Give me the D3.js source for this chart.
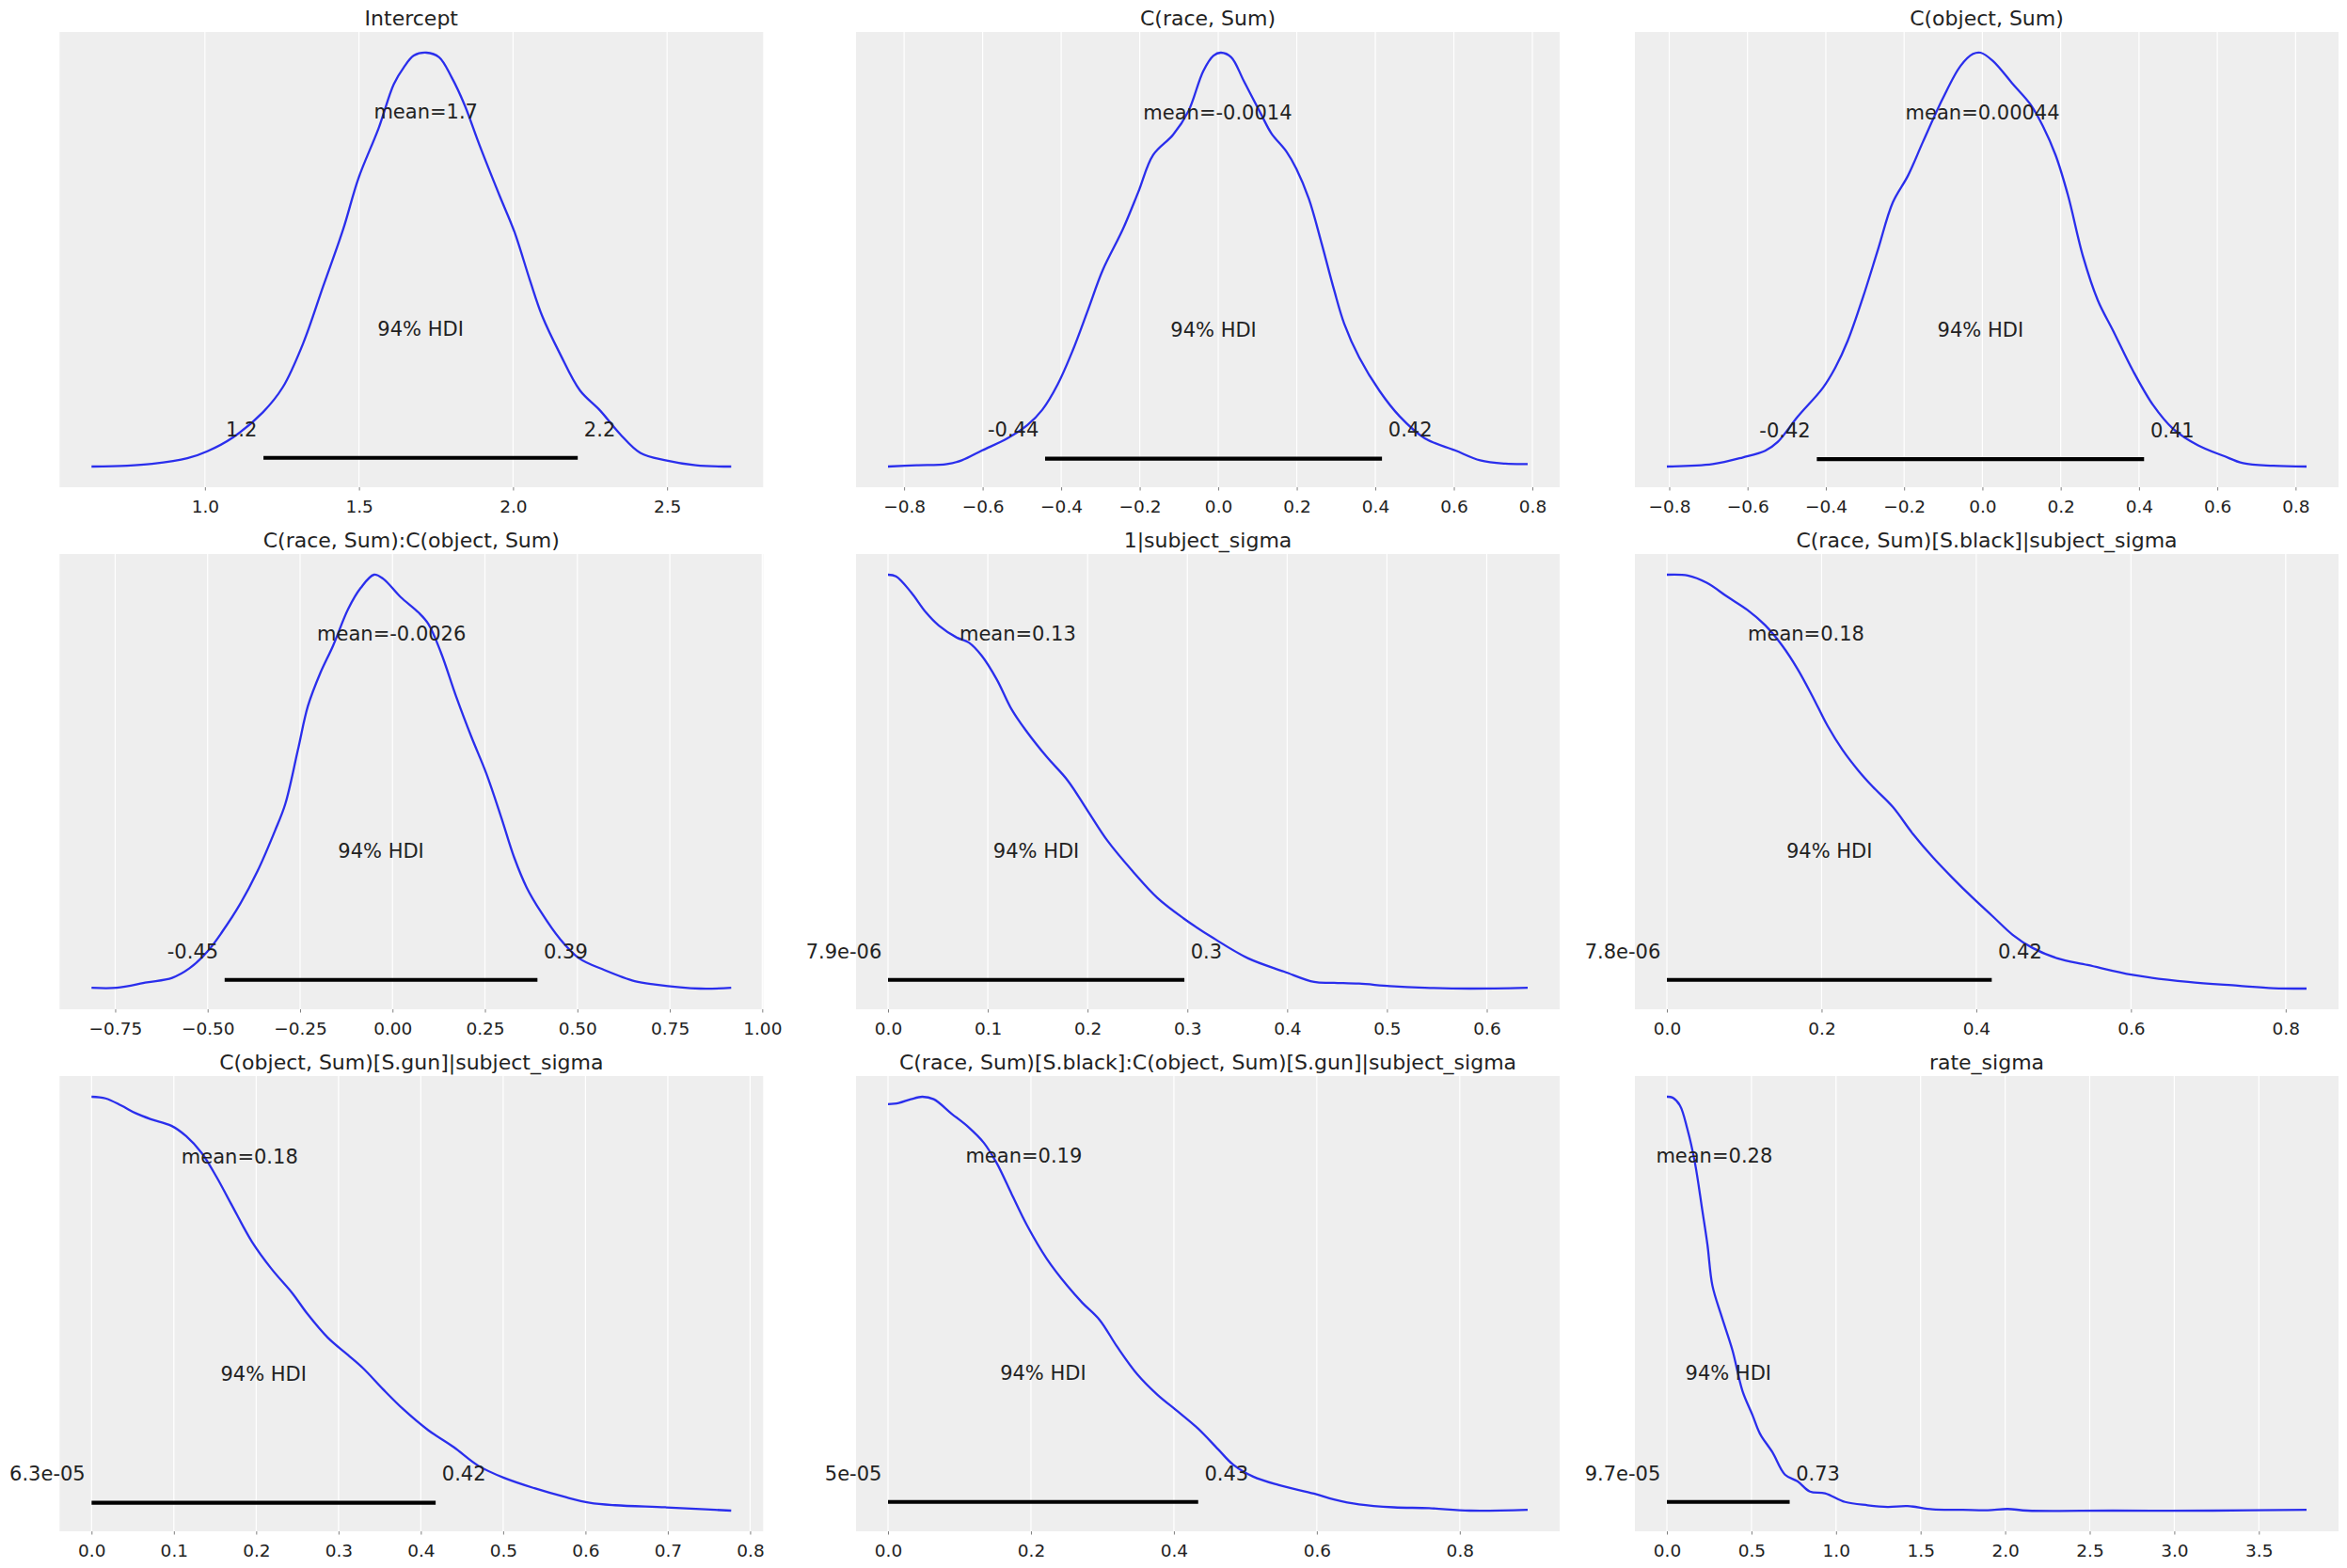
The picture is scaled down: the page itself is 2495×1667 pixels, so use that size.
<!DOCTYPE html>
<html><head><meta charset="utf-8">
<script src="https://cdn.jsdelivr.net/npm/d3@7"></script>
<style>
body{margin:0;background:#fff}
svg{display:block}
text{font-family:"DejaVu Sans",sans-serif}
</style>
</head><body>
<svg id="chart" width="2495" height="1667"></svg>
<script>
// ---------------- data ----------------
const titles = ["Intercept", "C(race, Sum)", "C(object, Sum)",
  "C(race, Sum):C(object, Sum)", "1|subject_sigma", "C(race, Sum)[S.black]|subject_sigma",
  "C(object, Sum)[S.gun]|subject_sigma", "C(race, Sum)[S.black]:C(object, Sum)[S.gun]|subject_sigma", "rate_sigma"];
const meanValues = [1.717, -0.0014, 0.00044, -0.0026, 0.13, 0.18, 0.18, 0.19, 0.28];
const hdiLow  = [1.19, -0.441, -0.423, -0.454, 7.9e-06, 7.8e-06, 6.3e-05, 5e-05, 9.7e-05];
const hdiHigh = [2.21, 0.417, 0.413, 0.392, 0.297, 0.42, 0.418, 0.434, 0.726];
const hdiProb = 0.94;
const xTicks = [
  [1.0, 1.5, 2.0, 2.5],
  [-0.8, -0.6, -0.4, -0.2, 0.0, 0.2, 0.4, 0.6, 0.8],
  [-0.8, -0.6, -0.4, -0.2, 0.0, 0.2, 0.4, 0.6, 0.8],
  [-0.75, -0.50, -0.25, 0.00, 0.25, 0.50, 0.75, 1.00],
  [0.0, 0.1, 0.2, 0.3, 0.4, 0.5, 0.6],
  [0.0, 0.2, 0.4, 0.6, 0.8],
  [0.0, 0.1, 0.2, 0.3, 0.4, 0.5, 0.6, 0.7, 0.8],
  [0.0, 0.2, 0.4, 0.6, 0.8],
  [0.0, 0.5, 1.0, 1.5, 2.0, 2.5, 3.0, 3.5]
];
const tickDecimals = [1, 1, 1, 2, 1, 1, 1, 1, 1];

// kernel density curves (x = parameter value, y = relative density)
const interceptX = [0.632,0.747,0.828,0.943,1.008,1.09,1.188,1.253,1.319,1.384,1.449,1.498,1.564,1.613,1.645,1.678,1.719,1.760,1.801,1.842,1.891,1.956,2.005,2.054,2.095,2.152,2.217,2.283,2.348,2.413,2.495,2.593,2.708];
const interceptY = [0,0.002,0.0065,0.02,0.037,0.07,0.131,0.192,0.298,0.436,0.574,0.696,0.818,0.924,0.964,0.993,1.0,0.989,0.940,0.875,0.777,0.655,0.566,0.452,0.363,0.273,0.184,0.135,0.078,0.033,0.015,0.003,0];

const raceX = [-0.841,-0.768,-0.691,-0.653,-0.601,-0.537,-0.486,-0.448,-0.409,-0.371,-0.332,-0.294,-0.243,-0.204,-0.166,-0.115,-0.076,-0.038,-0.012,0.007,0.033,0.065,0.110,0.135,0.174,0.199,0.231,0.263,0.295,0.321,0.359,0.411,0.462,0.526,0.603,0.667,0.731,0.788];
const raceY = [0.002,0.005,0.008,0.017,0.041,0.070,0.102,0.139,0.2,0.281,0.379,0.476,0.574,0.663,0.753,0.802,0.859,0.956,0.993,1.0,0.989,0.932,0.850,0.806,0.761,0.720,0.647,0.541,0.428,0.346,0.265,0.184,0.123,0.070,0.041,0.017,0.009,0.008];

const objectX = [-0.806,-0.689,-0.612,-0.555,-0.523,-0.472,-0.408,-0.376,-0.344,-0.305,-0.267,-0.229,-0.190,-0.152,-0.101,-0.056,-0.024,-0.005,0.027,0.078,0.123,0.155,0.187,0.219,0.257,0.295,0.334,0.385,0.436,0.487,0.551,0.615,0.666,0.743,0.828];
const objectY = [0.003,0.009,0.025,0.041,0.062,0.123,0.192,0.241,0.306,0.411,0.525,0.639,0.704,0.785,0.890,0.968,0.997,1.0,0.980,0.924,0.875,0.822,0.753,0.655,0.509,0.403,0.330,0.233,0.151,0.094,0.054,0.029,0.011,0.005,0.003];

const raceObjectX = [-0.814,-0.746,-0.664,-0.596,-0.549,-0.501,-0.460,-0.413,-0.365,-0.318,-0.290,-0.256,-0.229,-0.195,-0.161,-0.120,-0.086,-0.050,-0.025,0.022,0.070,0.097,0.131,0.172,0.213,0.254,0.294,0.329,0.363,0.403,0.451,0.505,0.573,0.655,0.709,0.832,0.916];
const raceObjectY = [0.002,0.002,0.015,0.026,0.049,0.089,0.138,0.203,0.284,0.381,0.446,0.576,0.682,0.763,0.828,0.917,0.968,1.0,0.990,0.946,0.909,0.881,0.812,0.706,0.609,0.519,0.414,0.317,0.244,0.183,0.122,0.073,0.045,0.018,0.010,0.0,0.002];

const subjX = [0,0.008,0.023,0.038,0.051,0.069,0.081,0.094,0.109,0.124,0.139,0.159,0.180,0.200,0.220,0.245,0.270,0.296,0.326,0.361,0.397,0.427,0.447,0.472,0.503,0.538,0.583,0.641];
const subjY = [1.0,0.996,0.958,0.909,0.877,0.848,0.836,0.804,0.747,0.674,0.621,0.560,0.503,0.430,0.357,0.284,0.219,0.170,0.122,0.073,0.041,0.016,0.014,0.012,0.006,0.002,0.0,0.002];

const raceSubjX = [0,0.027,0.052,0.078,0.104,0.127,0.149,0.169,0.188,0.208,0.227,0.247,0.266,0.292,0.318,0.344,0.369,0.395,0.421,0.447,0.473,0.505,0.544,0.602,0.674,0.738,0.784,0.827];
const raceSubjY = [1.0,0.998,0.980,0.947,0.915,0.878,0.829,0.772,0.707,0.634,0.577,0.528,0.488,0.439,0.374,0.317,0.268,0.220,0.175,0.130,0.098,0.073,0.057,0.033,0.016,0.007,0.001,0];

const objectSubjX = [0,0.017,0.036,0.054,0.072,0.097,0.115,0.134,0.152,0.170,0.195,0.219,0.244,0.262,0.287,0.311,0.330,0.354,0.379,0.409,0.440,0.470,0.501,0.538,0.575,0.605,0.636,0.697,0.746,0.777];
const objectSubjY = [1.0,0.996,0.979,0.960,0.946,0.930,0.905,0.864,0.806,0.740,0.650,0.584,0.526,0.477,0.419,0.378,0.345,0.295,0.246,0.196,0.155,0.110,0.081,0.056,0.035,0.021,0.015,0.010,0.005,0.002];

const interSubjX = [0,0.015,0.032,0.048,0.064,0.089,0.113,0.134,0.152,0.173,0.194,0.222,0.251,0.272,0.296,0.321,0.349,0.377,0.406,0.434,0.462,0.483,0.511,0.546,0.596,0.624,0.659,0.708,0.757,0.814,0.895];
const interSubjY = [0.982,0.985,0.994,1.0,0.994,0.959,0.926,0.889,0.840,0.765,0.691,0.609,0.543,0.502,0.461,0.395,0.329,0.280,0.239,0.198,0.148,0.111,0.082,0.062,0.041,0.027,0.015,0.008,0.006,0.0,0.002];

const rateX = [0,0.033,0.077,0.121,0.166,0.210,0.240,0.269,0.323,0.388,0.447,0.506,0.550,0.624,0.698,0.772,0.846,0.935,1.053,1.187,1.305,1.423,1.571,1.749,1.897,2.015,2.133,2.636,3.228,3.782];
const rateY = [1.0,0.998,0.979,0.922,0.840,0.724,0.642,0.544,0.470,0.387,0.289,0.231,0.186,0.141,0.087,0.071,0.046,0.042,0.021,0.013,0.009,0.011,0.003,0.002,0.001,0.004,0,0,0,0.002];

const densX = [interceptX, raceX, objectX, raceObjectX, subjX, raceSubjX, objectSubjX, interSubjX, rateX];
const densY = [interceptY, raceY, objectY, raceObjectY, subjY, raceSubjY, objectSubjY, interSubjY, rateY];

// ---------------- layout ----------------
const colLeft = [63.3, 910, 1738];
const rowTop = [34, 589, 1144];
const pw = 748, ph = 484;
const textColor = "#222222";
const lineColor = "#2a2eec";

// python-like "%.2g" formatting
function pyG(v) {
  if (v === 0) return "0";
  const e = Math.floor(Math.log10(Math.abs(+v.toPrecision(2))));
  if (e < -4 || e >= 2) {
    let [m, ex] = v.toExponential(1).split("e");
    m = m.replace(/\.?0+$/, "");
    const sign = ex[0] === "-" ? "-" : "+";
    ex = ex.replace(/^[+-]/, "");
    if (ex.length < 2) ex = "0" + ex;
    return m + "e" + sign + ex;
  }
  let s = v.toPrecision(2);
  if (s.indexOf(".") >= 0) s = s.replace(/0+$/, "").replace(/\.$/, "");
  return s;
}

const svg = d3.select("#chart");

titles.forEach((title, i) => {
  const left = colLeft[i % 3], top = rowTop[Math.floor(i / 3)];
  const xs = densX[i], ys = densY[i];
  const [x0, x1] = d3.extent(xs), xs_span = x1 - x0;
  const [y0, y1] = d3.extent(ys), ys_span = y1 - y0;
  const x = d3.scaleLinear().domain([x0 - 0.05 * xs_span, x1 + 0.05 * xs_span]).range([0, pw]);
  const yTop = y1 + 0.05 * ys_span;
  const y = d3.scaleLinear().domain([y0 - 0.05 * ys_span, yTop]).range([ph, 0]);
  const plotHeight = yTop;

  const g = svg.append("g").attr("transform", `translate(${left},${top})`);
  g.append("rect").attr("width", pw).attr("height", ph).attr("fill", "#eeeeee");

  // grid
  g.selectAll("line.grid").data(xTicks[i]).join("line")
    .attr("class", "grid")
    .attr("x1", d => x(d)).attr("x2", d => x(d))
    .attr("y1", 0).attr("y2", ph)
    .attr("stroke", "#ffffff").attr("stroke-width", 1.2);

  // axis
  const ax = g.append("g").attr("transform", `translate(0,${ph})`)
    .call(d3.axisBottom(x).tickValues(xTicks[i]).tickFormat(d3.format(`.${tickDecimals[i]}f`))
      .tickSize(3.5).tickPadding(10));
  ax.select(".domain").remove();
  ax.selectAll(".tick line").attr("stroke", "#808080").attr("stroke-width", 1);
  ax.selectAll(".tick text").attr("fill", textColor).style("font-size", "18.5px")
    .style("font-family", "'DejaVu Sans', sans-serif");

  // density line
  const pts = xs.map((v, k) => [v, ys[k]]);
  g.append("path").datum(pts)
    .attr("d", d3.line().x(d => x(d[0])).y(d => y(d[1])).curve(d3.curveCatmullRom.alpha(0.5)))
    .attr("fill", "none").attr("stroke", lineColor).attr("stroke-width", 2.3)
    .attr("stroke-linejoin", "round");

  // HDI bar
  g.append("line")
    .attr("x1", x(hdiLow[i])).attr("x2", x(hdiHigh[i]))
    .attr("y1", y(plotHeight * 0.02)).attr("y2", y(plotHeight * 0.02))
    .attr("stroke", "#000").attr("stroke-width", 4.2).attr("stroke-linecap", "butt");

  const txt = (xv, yv, s, anchor, dx) => g.append("text")
    .attr("x", x(xv)).attr("y", y(yv)).attr("dx", dx || 0)
    .attr("text-anchor", anchor).attr("fill", textColor)
    .style("font-size", "21px").text(s);

  txt((hdiLow[i] + hdiHigh[i]) / 2, plotHeight * 0.3, `${Math.round(hdiProb * 100)}% HDI`, "middle");
  txt(hdiLow[i], plotHeight * 0.07, pyG(hdiLow[i]), "end", "-0.318em");
  txt(hdiHigh[i], plotHeight * 0.07, pyG(hdiHigh[i]), "start", "0.318em");
  txt(meanValues[i], plotHeight * 0.8, "mean=" + pyG(meanValues[i]), "middle");

  // title
  g.append("text").attr("x", pw / 2).attr("y", -7)
    .attr("text-anchor", "middle").attr("fill", textColor)
    .style("font-size", "22px").text(title);
});
</script>
</body></html>
